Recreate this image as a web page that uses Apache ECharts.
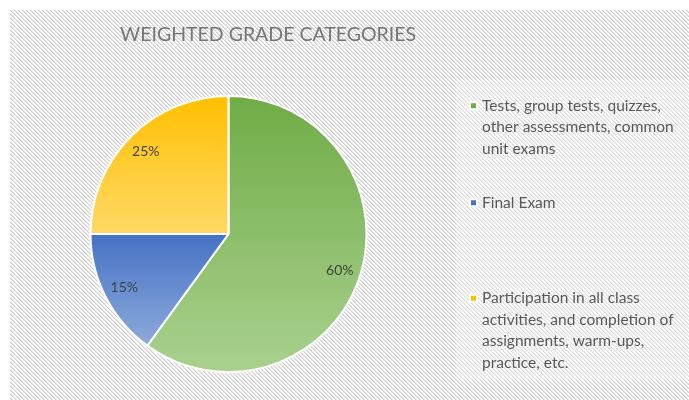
<!DOCTYPE html>
<html>
<head>
<meta charset="utf-8">
<script src="https://cdn.jsdelivr.net/npm/echarts@6/dist/echarts.min.js"></script>
<style>
html,body{margin:0;padding:0;background:#fff;}
#main{width:689px;height:400px;}
</style>
</head>
<body>
<div id="main"></div>
<script>
// data
var categories = ['Tests, group tests, quizzes, other assessments, common unit exams', 'Final Exam', 'Participation in all class activities, and completion of assignments, warm-ups, practice, etc.'];
var legendLines = [
	['Tests, group tests, quizzes,', 'other assessments, common', 'unit exams'],
	['Final Exam'],
	['Participation in all class', 'activities, and completion of', 'assignments, warm-ups,', 'practice, etc.']
];
var weights = [60, 15, 25];
var topColors = ['#6fac46', '#4472c4', '#ffc000'];
var bottomColors = ['#a9d18e', '#8eaadb', '#ffd966'];

// hatched background
var pc = document.createElement('canvas');
pc.width = 4; pc.height = 4;
var ctx = pc.getContext('2d');
ctx.fillStyle = '#ffffff';
ctx.fillRect(0, 0, 4, 4);
for (var i = 0; i < 4; i++) {
	ctx.fillStyle = '#cfcfcf';
	ctx.fillRect(i, i, 1, 1);
	ctx.fillStyle = '#e4e4e4';
	ctx.fillRect((i + 1) % 4, i, 1, 1);
}

var pieData = [];
var labelData = [];
for (var k = 0; k < categories.length; k++) {
	pieData.push({
		value: weights[k], name: categories[k],
		itemStyle: {color: new echarts.graphic.LinearGradient(0, 0, 0, 1, [{offset: 0, color: topColors[k]}, {offset: 1, color: bottomColors[k]}])}
	});
	labelData.push({value: weights[k], name: categories[k]});
}

// icon sits next to first line: pad with blank lines above so line 1 is the middle
var LH = 21.5;
var legendTops = [52, 192, 223];
var legends = [];
for (var j = 0; j < categories.length; j++) {
	var n = legendLines[j].length;
	var txt = new Array(n).join('\n') + legendLines[j].join('\n');
	legends.push({
		orient: 'vertical',
		left: 469,
		top: legendTops[j],
		padding: 0,
		icon: 'rect',
		itemWidth: 7,
		itemHeight: 7,
		itemGap: 0,
		selectedMode: false,
		data: [{name: categories[j], itemStyle: {color: topColors[j]}}],
		formatter: (function (t) { return function () { return t; }; })(txt),
		textStyle: {fontFamily: 'Lato', fontSize: 15.5, color: '#595959', lineHeight: LH}
	});
}

var chart = echarts.init(document.getElementById('main'));
var option = {
	animation: false,
	backgroundColor: '#ffffff',
	title: {
		text: 'WEIGHTED GRADE CATEGORIES',
		left: 120, top: 25, padding: 0,
		textStyle: {fontFamily: 'Lato', fontSize: 19.5, fontWeight: 'normal', color: '#767676'}
	},
	graphic: [
		{type: 'rect', left: 10, top: 10, z: -10, silent: true, shape: {width: 679, height: 390}, style: {fill: {image: pc, repeat: 'repeat'}}},
		{type: 'rect', left: 456, top: 80, z: -9, silent: true, shape: {width: 233, height: 300}, style: {fill: 'rgba(255,255,255,0.3)'}}
	],
	legend: legends,
	series: [
		{
			type: 'pie',
			center: [228.5, 234],
			radius: 138,
			startAngle: 90,
			clockwise: true,
			silent: true,
			itemStyle: {borderColor: '#ffffff', borderWidth: 2},
			label: {show: false},
			labelLine: {show: false},
			data: pieData
		},
		{
			type: 'pie',
			center: [228.5, 234],
			radius: [90, 138],
			startAngle: 90,
			silent: true,
			legendHoverLink: false,
			itemStyle: {color: 'rgba(0,0,0,0)'},
			label: {show: true, position: 'inside', formatter: '{d}%', fontFamily: 'Lato', fontSize: 14, color: '#404040'},
			labelLine: {show: false},
			data: labelData
		}
	]
};
chart.setOption(option);
</script>
</body>
</html>
